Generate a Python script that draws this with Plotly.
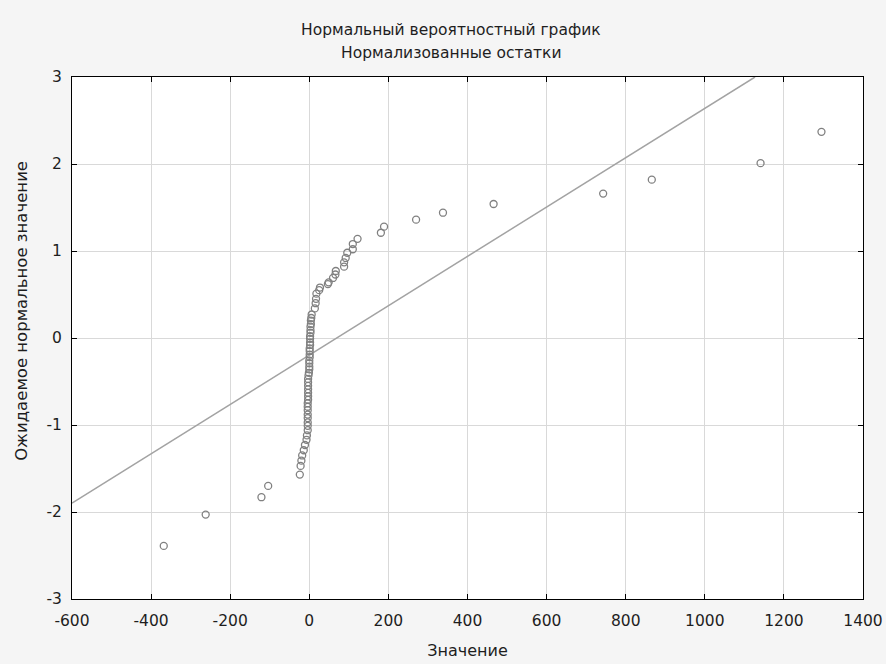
import plotly.graph_objects as go

# Observed values (Значение) and expected normal values
values = [1295, 1141, 866, 743, 466, 338, 270, 189, 181, 122,
          110, 110, 96, 92, 88, 88, 67, 66, 60, 49,
          47, 27, 25, 18, 17, 16, 14, 6,
          5, 4, 4, 3, 3, 3, 2, 2, 2, 2,
          1, 1, 1, 1, 0, 0, 0, 0, -1, -2,
          -3, -3, -3, -3, -3, -3, -3, -4, -4, -4,
          -4, -4, -4, -4, -4,
          -6, -7, -11, -14, -18, -20, -22, -24, -104, -121, -262, -368]
expected = [2.37, 2.01, 1.82, 1.66, 1.54, 1.44, 1.36, 1.28, 1.21, 1.14,
            1.08, 1.02, 0.98, 0.92, 0.87, 0.82, 0.77, 0.73, 0.69, 0.64,
            0.62, 0.58, 0.55, 0.51, 0.45, 0.40, 0.34, 0.27,
            0.23, 0.20, 0.16, 0.13, 0.09, 0.06, 0.02, -0.01, -0.05, -0.08,
            -0.12, -0.15, -0.19, -0.22, -0.26, -0.29, -0.33, -0.36, -0.40, -0.43,
            -0.47, -0.51, -0.55, -0.59, -0.63, -0.67, -0.71, -0.75, -0.79, -0.83,
            -0.88, -0.92, -0.97, -1.01, -1.06,
            -1.12, -1.17, -1.23, -1.29, -1.35, -1.41, -1.47, -1.57, -1.70, -1.83, -2.03, -2.39]

# Reference line endpoints
line_x = [-600, 1127]
line_y = [-1.897, 3.0]

x_ticks = [-600, -400, -200, 0, 200, 400, 600, 800, 1000, 1200, 1400]
y_ticks = [-3, -2, -1, 0, 1, 2, 3]

title_lines = ["Нормальный вероятностный график", "Нормализованные остатки"]
x_title = "Значение"
y_title = "Ожидаемое нормальное значение"

fig = go.Figure()
fig.add_trace(go.Scatter(x=line_x, y=line_y, mode="lines",
                         line=dict(color="#a3a3a3", width=1.5),
                         hoverinfo="skip", showlegend=False))
fig.add_trace(go.Scatter(x=values, y=expected, mode="markers",
                         marker=dict(symbol="circle-open", size=7,
                                     color="#808080", line=dict(width=1.3, color="#808080")),
                         showlegend=False))

font = "DejaVu Sans, Liberation Sans, Arial, sans-serif"
fs = 15.5
tc = "#1e1e1e"
fig.update_layout(
    width=886, height=664,
    margin=dict(l=72, r=23, t=77, b=65, autoexpand=False),
    paper_bgcolor="#f5f5f5", plot_bgcolor="white",
    font=dict(family=font, size=fs, color=tc),
)
# title lines and y-axis title as annotations
fig.add_annotation(text=title_lines[0], xref="paper", yref="paper", x=0.479, y=1.090,
                   xanchor="center", yanchor="middle", showarrow=False,
                   font=dict(family=font, size=fs, color=tc))
fig.add_annotation(text=title_lines[1], xref="paper", yref="paper", x=0.479, y=1.046,
                   xanchor="center", yanchor="middle", showarrow=False,
                   font=dict(family=font, size=fs, color=tc))
fig.add_annotation(text=y_title, xref="paper", yref="paper", x=-0.0632, y=0.552,
                   xanchor="center", yanchor="middle", showarrow=False, textangle=-90,
                   font=dict(family=font, size=16.5, color=tc))

fig.update_xaxes(range=[-600, 1400], tickvals=x_ticks, ticktext=[str(v) for v in x_ticks],
                 showgrid=True, gridcolor="#d9d9d9", gridwidth=1, zeroline=False,
                 showline=True, linecolor="black", linewidth=1, mirror="ticks",
                 ticks="inside", ticklen=5, tickcolor="black", automargin=False,
                 ticklabelstandoff=7,
                 title=dict(text=x_title, font=dict(size=16), standoff=16),
                 tickfont=dict(size=fs))
fig.update_yaxes(range=[-3, 3], tickvals=y_ticks, ticktext=[str(v) for v in y_ticks],
                 showgrid=True, gridcolor="#d9d9d9", gridwidth=1, zeroline=False,
                 showline=True, linecolor="black", linewidth=1, mirror="ticks",
                 ticks="inside", ticklen=5, tickcolor="black", automargin=False,
                 ticklabelstandoff=6,
                 tickfont=dict(size=fs))

fig.write_html("out.html")
